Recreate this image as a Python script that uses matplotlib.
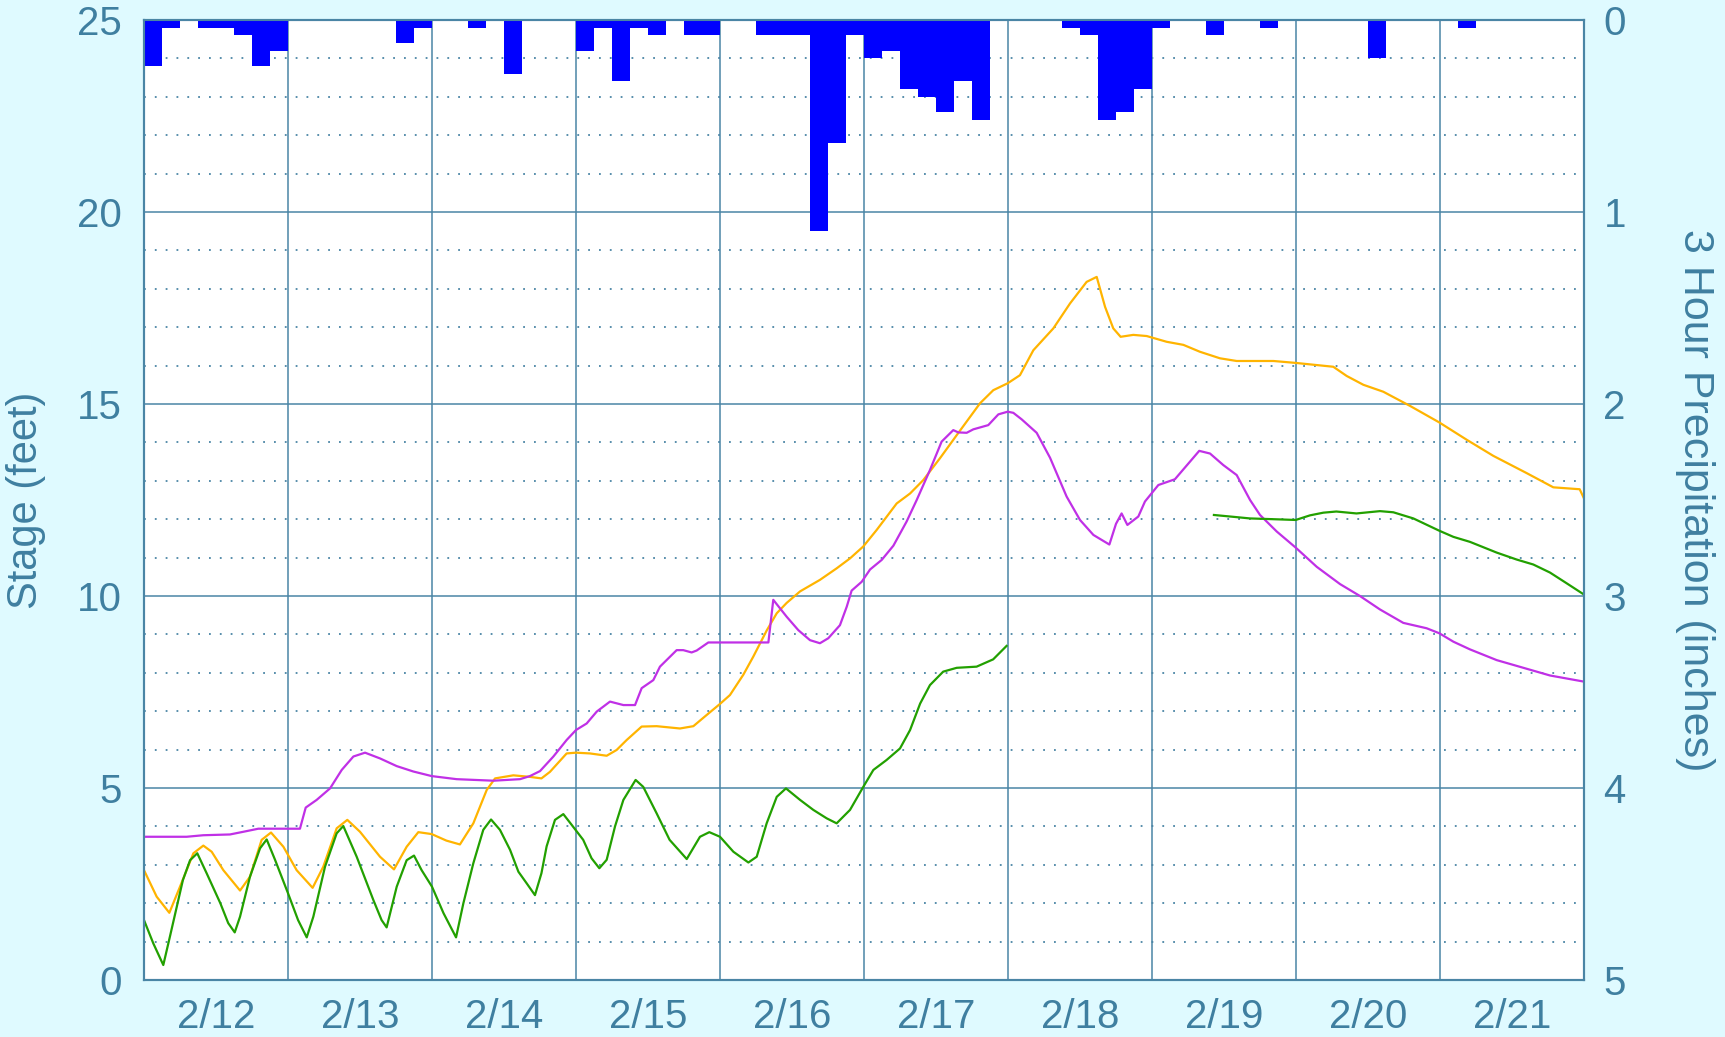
import matplotlib
matplotlib.use('Agg')
import matplotlib.pyplot as plt
from matplotlib.ticker import MultipleLocator, FixedLocator, NullFormatter

BG = '#dffaff'
FRAME = '#4a85a5'
TEXT = '#3f7fa0'
YELLOW = '#ffb400'
MAGENTA = '#c030e6'
GREEN = '#22a000'
BLUE = '#0000ff'

plt.rcParams['font.family'] = ['Liberation Sans', 'DejaVu Sans']

# x values are days since 2/12 00:00
day_labels = ['2/12', '2/13', '2/14', '2/15', '2/16', '2/17', '2/18', '2/19', '2/20', '2/21']

# 3 hour precipitation (start of each 3 h slot, inches)
precip_t = [0.0, 0.125, 0.375, 0.5, 0.625, 0.75, 0.875,
            1.75, 1.875,
            2.25, 2.5,
            3.0, 3.125, 3.25, 3.375, 3.5, 3.75, 3.875,
            4.25, 4.375, 4.5, 4.625, 4.75, 4.875,
            5.0, 5.125, 5.25, 5.375, 5.5, 5.625, 5.75,
            6.375, 6.5, 6.625, 6.75, 6.875,
            7.0, 7.375, 7.75,
            8.5,
            9.125]
precip_in = [0.24, 0.04, 0.04, 0.04, 0.08, 0.24, 0.16,
             0.12, 0.04,
             0.04, 0.28,
             0.16, 0.04, 0.32, 0.04, 0.08, 0.08, 0.08,
             0.08, 0.08, 0.08, 1.10, 0.64, 0.08,
             0.20, 0.16, 0.36, 0.40, 0.48, 0.32, 0.52,
             0.04, 0.08, 0.52, 0.48, 0.36,
             0.04, 0.08, 0.04,
             0.20,
             0.04]

# yellow stage
yel_t = [0, 0.088, 0.176, 0.25, 0.343, 0.412, 0.47, 0.551, 0.667, 0.736, 0.817, 0.882,
         0.968, 1.06, 1.171, 1.245, 1.338, 1.412, 1.5, 1.639, 1.736, 1.824, 1.905, 1.998,
         2.1, 2.194, 2.287, 2.38, 2.438, 2.565, 2.68, 2.76, 2.819, 2.935, 3.0, 3.097,
         3.213, 3.282, 3.352, 3.456, 3.56, 3.722, 3.815, 3.907, 4.0, 4.069, 4.162, 4.231,
         4.324, 4.394, 4.463, 4.556, 4.694, 4.81, 4.903, 4.995, 5.088, 5.227, 5.32, 5.412,
         5.528, 5.644, 5.806, 5.898, 5.998, 6.083, 6.176, 6.315, 6.431, 6.546, 6.616, 6.674,
         6.731, 6.782, 6.87, 6.963, 7.102, 7.218, 7.333, 7.472, 7.588, 7.843, 7.998, 8.259,
         8.352, 8.468, 8.606, 8.792, 8.995, 9.185, 9.37, 9.602, 9.787, 9.97, 10.0]
yel_ft = [2.86, 2.17, 1.75, 2.43, 3.30, 3.50, 3.34, 2.86, 2.33, 2.69, 3.65, 3.84,
          3.47, 2.86, 2.40, 2.95, 3.95, 4.17, 3.86, 3.21, 2.88, 3.47, 3.85, 3.80,
          3.63, 3.53, 4.08, 4.95, 5.25, 5.33, 5.29, 5.25, 5.42, 5.90, 5.92, 5.90,
          5.84, 5.99, 6.25, 6.60, 6.61, 6.55, 6.61, 6.90, 7.19, 7.42, 7.95, 8.42,
          9.10, 9.55, 9.82, 10.12, 10.42, 10.72, 10.98, 11.29, 11.72, 12.41, 12.67, 13.02,
          13.59, 14.19, 15.02, 15.36, 15.54, 15.75, 16.40, 16.97, 17.62, 18.18, 18.31, 17.53,
          16.97, 16.75, 16.80, 16.77, 16.62, 16.54, 16.36, 16.19, 16.12, 16.12, 16.07, 15.97,
          15.73, 15.50, 15.32, 14.95, 14.52, 14.07, 13.65, 13.20, 12.83, 12.78, 12.54]

# magenta stage
mag_t = [0, 0.296, 0.412, 0.597, 0.69, 0.794, 1.083, 1.123, 1.199, 1.292, 1.373, 1.454,
         1.535, 1.639, 1.755, 1.87, 1.998, 2.171, 2.426, 2.611, 2.68, 2.75, 2.843, 2.935,
         3.0, 3.074, 3.144, 3.236, 3.329, 3.41, 3.456, 3.537, 3.583, 3.699, 3.745, 3.803,
         3.838, 3.919, 4.336, 4.37, 4.463, 4.544, 4.625, 4.694, 4.752, 4.833, 4.88, 4.914,
         4.984, 5.042, 5.123, 5.204, 5.296, 5.366, 5.458, 5.539, 5.62, 5.655, 5.713, 5.759,
         5.863, 5.933, 5.998, 6.037, 6.095, 6.199, 6.292, 6.407, 6.5, 6.593, 6.704, 6.75,
         6.789, 6.829, 6.905, 6.951, 7.044, 7.159, 7.328, 7.403, 7.495, 7.588, 7.681, 7.75,
         7.866, 7.998, 8.144, 8.306, 8.444, 8.583, 8.745, 8.907, 8.995, 9.093, 9.208, 9.394,
         9.579, 9.764, 10.0]
mag_ft = [3.73, 3.73, 3.77, 3.79, 3.86, 3.94, 3.94, 4.49, 4.69, 4.99, 5.47, 5.82,
          5.92, 5.77, 5.57, 5.43, 5.31, 5.23, 5.19, 5.23, 5.31, 5.44, 5.82, 6.25,
          6.51, 6.68, 6.99, 7.25, 7.16, 7.16, 7.60, 7.81, 8.16, 8.59, 8.59, 8.53,
          8.58, 8.79, 8.79, 9.90, 9.46, 9.11, 8.85, 8.77, 8.90, 9.24, 9.72, 10.14,
          10.37, 10.69, 10.94, 11.31, 11.94, 12.50, 13.28, 14.02, 14.32, 14.26, 14.25, 14.34,
          14.45, 14.73, 14.80, 14.77, 14.60, 14.25, 13.60, 12.59, 11.98, 11.59, 11.34, 11.88,
          12.15, 11.85, 12.07, 12.46, 12.89, 13.04, 13.78, 13.71, 13.41, 13.15, 12.50, 12.11,
          11.68, 11.26, 10.76, 10.31, 10.00, 9.65, 9.30, 9.16, 9.03, 8.81, 8.61, 8.33,
          8.13, 7.93, 7.77]

# green stage, first part
grn1_t = [0.0, 0.065, 0.134, 0.18, 0.27, 0.32, 0.37, 0.435, 0.53, 0.585, 0.63, 0.667,
          0.736, 0.806, 0.852, 0.91, 1.0, 1.07, 1.13, 1.176, 1.257, 1.338, 1.384, 1.477,
          1.593, 1.65, 1.685, 1.755, 1.824, 1.875, 1.928, 2.0, 2.08, 2.167, 2.218, 2.287,
          2.356, 2.41, 2.472, 2.542, 2.60, 2.657, 2.715, 2.76, 2.796, 2.854, 2.912, 2.97,
          3.05, 3.108, 3.162, 3.213, 3.271, 3.329, 3.414, 3.467, 3.56, 3.65, 3.769, 3.861,
          3.926, 4.0, 4.093, 4.197, 4.255, 4.324, 4.394, 4.458, 4.556, 4.648, 4.741, 4.81,
          4.903, 4.995, 5.065, 5.157, 5.25, 5.32, 5.39, 5.458, 5.55, 5.644, 5.782, 5.897,
          5.99]
grn1_ft = [1.56, 0.95, 0.39, 1.13, 2.60, 3.12, 3.30, 2.78, 2.00, 1.48, 1.24, 1.65,
           2.69, 3.43, 3.66, 3.13, 2.26, 1.56, 1.11, 1.65, 2.95, 3.82, 4.01, 3.21,
           2.08, 1.56, 1.37, 2.43, 3.12, 3.24, 2.86, 2.43, 1.74, 1.11, 2.00, 3.04,
           3.91, 4.18, 3.91, 3.39, 2.82, 2.52, 2.21, 2.78, 3.48, 4.17, 4.32, 4.04,
           3.65, 3.17, 2.91, 3.13, 4.00, 4.69, 5.21, 5.03, 4.34, 3.65, 3.15, 3.73,
           3.85, 3.73, 3.34, 3.06, 3.21, 4.08, 4.77, 4.99, 4.69, 4.43, 4.21, 4.08,
           4.43, 5.03, 5.47, 5.73, 6.03, 6.51, 7.20, 7.68, 8.03, 8.13, 8.16, 8.35,
           8.70]

# green stage, second part
grn2_t = [7.43, 7.542, 7.681, 7.843, 7.998, 8.097, 8.19, 8.28, 8.42, 8.583, 8.676, 8.815,
          8.995, 9.093, 9.208, 9.394, 9.532, 9.648, 9.764, 9.88, 9.995]
grn2_ft = [12.11, 12.07, 12.02, 12.00, 11.98, 12.10, 12.17, 12.20, 12.15, 12.21, 12.18, 12.02,
           11.70, 11.54, 11.41, 11.13, 10.95, 10.82, 10.61, 10.33, 10.05]

fig = plt.figure(figsize=(17.25, 10.37), dpi=100, facecolor=BG)
ax = fig.add_axes([144 / 1725, 1 - 980 / 1037, 1440 / 1725, 960 / 1037])
ax.set_facecolor('white')

line_kw = dict(lw=1.6, zorder=3, solid_joinstyle='round')
ax.plot(yel_t, yel_ft, color=YELLOW, **line_kw)
ax.plot(mag_t, mag_ft, color=MAGENTA, **line_kw)
ax.plot(grn1_t, grn1_ft, color=GREEN, **line_kw)
ax.plot(grn2_t, grn2_ft, color=GREEN, **line_kw)

ax.set_xlim(0, 10)
ax.set_ylim(0, 25)
ax.xaxis.set_major_locator(MultipleLocator(1))
ax.xaxis.set_major_formatter(NullFormatter())
ax.xaxis.set_minor_locator(FixedLocator([i + 0.5 for i in range(10)]))
ax.set_xticklabels(day_labels, minor=True)
ax.yaxis.set_major_locator(MultipleLocator(5))
ax.yaxis.set_minor_locator(MultipleLocator(1))

ax.grid(axis='x', which='major', color=FRAME, lw=1.1)
ax.grid(axis='y', which='major', color=FRAME, lw=1.1)
ax.grid(axis='y', which='minor', color=FRAME, lw=1.3, linestyle=(0, (1, 5)))
ax.set_axisbelow(True)

ax.tick_params(axis='both', which='both', length=0, colors=TEXT, labelsize=29)
ax.tick_params(axis='y', pad=16)
ax.tick_params(axis='x', which='minor', pad=13)
for sp in ax.spines.values():
    sp.set_color(FRAME)
    sp.set_linewidth(1.5)
ax.set_ylabel('Stage (feet)', color=TEXT, fontsize=30, labelpad=22)

ax2 = ax.twinx()
ax2.bar(precip_t, precip_in, width=0.125, align='edge', color=BLUE, zorder=2)
ax2.set_ylim(5, 0)
ax2.yaxis.set_major_locator(MultipleLocator(1))
ax2.tick_params(axis='y', length=0, colors=TEXT, labelsize=29, pad=14)
for sp in ax2.spines.values():
    sp.set_color(FRAME)
    sp.set_linewidth(1.5)
ax2.set_ylabel('3 Hour Precipitation (inches)', color=TEXT, fontsize=31,
               rotation=270, labelpad=64)

fig.savefig('out.png', dpi=100, facecolor=BG)
